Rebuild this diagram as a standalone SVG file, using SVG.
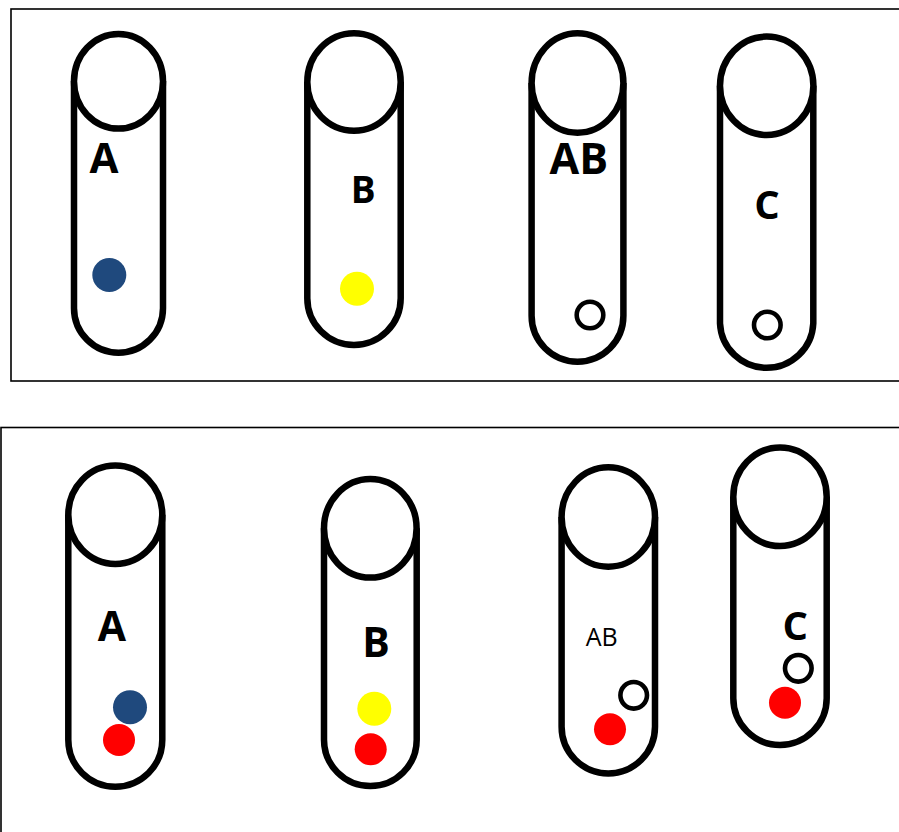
<svg xmlns="http://www.w3.org/2000/svg" width="899" height="832" viewBox="0 0 899 832">
<style>
.box{fill:none;stroke:#000;stroke-width:1.6}
.tube{fill:#fff;stroke:#000;stroke-width:6.5}
.lbl{font-family:"Open Sans","Liberation Sans",sans-serif;font-weight:700;text-anchor:middle;fill:#000}
.lblr{font-family:"Open Sans","Liberation Sans",sans-serif;font-weight:400;text-anchor:middle;fill:#000}
.ring{fill:#fff;stroke:#000;stroke-width:4.6}
.blue{fill:#1F497D}
.yellow{fill:#FFFF00}
.red{fill:#FF0000}
</style>
<rect width="899" height="832" fill="#fff"/>
<rect id="panel-top" class="box" x="11" y="9" width="900" height="372"/>
<rect id="panel-bottom" class="box" x="1" y="427.5" width="910" height="420"/>

<g id="top-A">
<path class="tube" d="M74,81 L74,308.2 A44.5,44.5 0 0 0 163,308.2 L163,81"/>
<ellipse class="tube" cx="118.5" cy="81.25" rx="44.5" ry="47.25"/>
<text class="lbl" x="104" y="173.3" font-size="42">A</text>
<circle class="blue" cx="109.3" cy="275" r="17"/>
</g>
<g id="top-B">
<path class="tube" d="M307.3,82 L307.3,298.3 A46.7,46.7 0 0 0 400.7,298.3 L400.7,82"/>
<ellipse class="tube" cx="354" cy="82" rx="46.7" ry="48.7"/>
<text class="lbl" x="363.3" y="203.3" font-size="37">B</text>
<circle class="yellow" cx="357" cy="288.7" r="17"/>
</g>
<g id="top-AB">
<path class="tube" d="M531.6,83 L531.6,315.8 A45.9,45.9 0 0 0 623.4,315.8 L623.4,83"/>
<ellipse class="tube" cx="577.5" cy="83" rx="45.9" ry="49.7"/>
<text class="lbl" x="578.8" y="174.3" font-size="43">AB</text>
<circle class="ring" cx="590" cy="315" r="13.3"/>
</g>
<g id="top-C">
<path class="tube" d="M720,85.8 L720,323.3 A46.7,46.7 0 0 0 813.3,323.3 L813.3,85.8"/>
<ellipse class="tube" cx="766.7" cy="85.8" rx="46.7" ry="49.2"/>
<text class="lbl" x="767" y="219" font-size="40">C</text>
<circle class="ring" cx="767.3" cy="325" r="13.3"/>
</g>

<g id="bottom-A">
<path class="tube" d="M68.3,514.8 L68.3,739.7 A47,47 0 0 0 162.3,739.7 L162.3,514.8"/>
<ellipse class="tube" cx="115.3" cy="514.8" rx="47" ry="49.2"/>
<text class="lbl" x="111.8" y="641" font-size="41">A</text>
<circle class="blue" cx="130" cy="707.3" r="17"/>
<circle class="red" cx="119" cy="740" r="16"/>
</g>
<g id="bottom-B">
<path class="tube" d="M324,528.3 L324,739.7 A46.3,46.3 0 0 0 416.7,739.7 L416.7,528.3"/>
<ellipse class="tube" cx="370.3" cy="528.3" rx="46.3" ry="49.3"/>
<text class="lbl" x="376" y="657.3" font-size="41">B</text>
<circle class="yellow" cx="374.3" cy="708.7" r="17"/>
<circle class="red" cx="370.7" cy="749.3" r="16"/>
</g>
<g id="bottom-AB">
<path class="tube" d="M561.6,517 L561.6,726.7 A46.7,46.7 0 0 0 655,726.7 L655,517"/>
<ellipse class="tube" cx="608.3" cy="517" rx="46.7" ry="49.7"/>
<text class="lblr" x="601.7" y="646" font-size="25">AB</text>
<circle class="ring" cx="633.7" cy="695.3" r="13.3"/>
<circle class="red" cx="610" cy="729.3" r="16"/>
</g>
<g id="bottom-C">
<path class="tube" d="M733.3,496.7 L733.3,698.3 A46.7,46.7 0 0 0 826.7,698.3 L826.7,496.7"/>
<ellipse class="tube" cx="780" cy="496.7" rx="46.7" ry="49.3"/>
<text class="lbl" x="795.3" y="640" font-size="40">C</text>
<circle class="ring" cx="798.3" cy="668.3" r="13.3"/>
<circle class="red" cx="785" cy="702.7" r="16"/>
</g>
<g id="connectors"/>
</svg>
